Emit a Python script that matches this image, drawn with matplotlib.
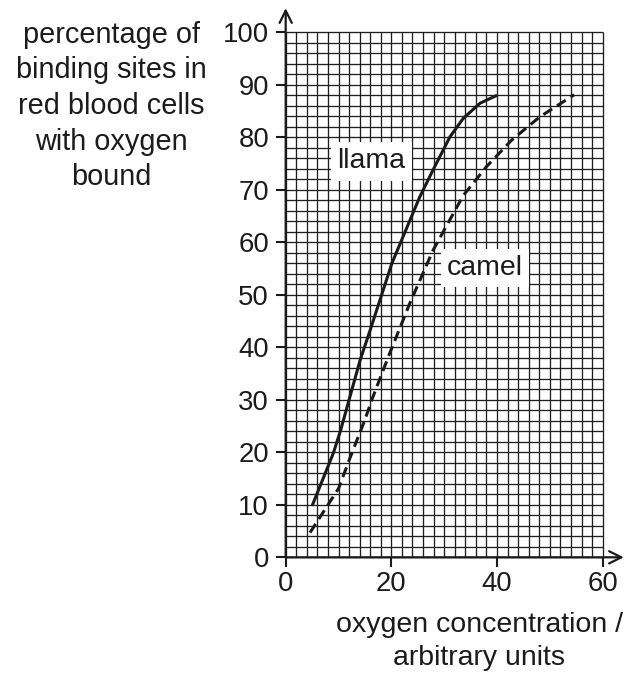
import numpy as np
import matplotlib
matplotlib.use('Agg')
import matplotlib.pyplot as plt

plt.rcParams['font.family'] = ['Liberation Sans', 'DejaVu Sans']

# values
llama_x = [5.0, 9.0, 10.4, 12.0, 14.1, 16.0, 20.1, 25.4, 27.9, 31.1, 33.6, 36.8, 40.0]
llama_y = [9.8, 19.8, 24.2, 30.0, 37.6, 43.3, 56.0, 68.7, 73.8, 80.1, 83.6, 86.5, 88.0]

camel_x = [4.6, 10.0, 12.5, 15.0, 16.3, 19.7, 23.5, 27.9, 33.6, 38.0, 42.8, 48.1, 54.6]
camel_y = [4.7, 13.1, 19.8, 26.2, 30.0, 38.9, 48.4, 58.5, 68.9, 74.4, 79.5, 83.9, 88.1]

x_ticks = [0, 20, 40, 60]
y_ticks = [0, 10, 20, 30, 40, 50, 60, 70, 80, 90, 100]

ylabel = 'percentage of\nbinding sites in\nred blood cells\nwith oxygen\nbound'
xlabel = 'oxygen concentration /\narbitrary units'

fig = plt.figure(figsize=(6.25, 6.73), dpi=100)
ax = fig.add_axes([0.4571, 0.1719, 0.5072, 0.7801])
ax.set_xlim(0, 60)
ax.set_ylim(0, 100)

# graph paper grid, one square = 2 units
gx = np.arange(0, 61, 2)
gy = np.arange(0, 101, 2)
ax.vlines(gx, 0, 100, color='#1f1f1f', lw=0.95, clip_on=False, zorder=1)
ax.hlines(gy, 0, 60, color='#1f1f1f', lw=0.95, clip_on=False, zorder=1)

for s in ax.spines.values():
    s.set_visible(False)

# axes with open arrow heads
ax.annotate('', xy=(0, 104.6), xytext=(0, 0), annotation_clip=False,
            arrowprops=dict(arrowstyle='->', lw=1.6, color='#1a1a1a',
                            mutation_scale=22, shrinkA=0, shrinkB=0))
ax.annotate('', xy=(64.0, 0), xytext=(0, 0), annotation_clip=False,
            arrowprops=dict(arrowstyle='->', lw=1.6, color='#1a1a1a',
                            mutation_scale=22, shrinkA=0, shrinkB=0))

ax.plot(llama_x, llama_y, color='#1a1a1a', lw=2.2, solid_capstyle='butt', zorder=3)
ax.plot(camel_x, camel_y, color='#1a1a1a', lw=2.2, dashes=(3.4, 1.9), zorder=3)

box = dict(boxstyle='square,pad=0.22', facecolor='white', edgecolor='none')
ax.text(16.2, 75.4, 'llama', fontsize=20.5, ha='center', va='center',
        color='#1c1a1b', bbox=box, zorder=4)
ax.text(37.7, 55.1, 'camel', fontsize=20.5, ha='center', va='center',
        color='#1c1a1b', bbox=box, zorder=4)

ax.set_xticks(x_ticks)
ax.set_yticks(y_ticks)
ax.tick_params(axis='both', direction='out', length=7, width=1.5,
               color='#1a1a1a', labelsize=19.8, labelcolor='#1c1a1b')
ax.tick_params(axis='x', pad=3)
ax.tick_params(axis='y', pad=5)

fig.text(0.178, 0.8425, ylabel, fontsize=20.8, ha='center', va='center',
         multialignment='center', linespacing=1.35, color='#1c1a1b')
fig.text(0.7664, 0.0468, xlabel, fontsize=20.5, ha='center', va='center',
         multialignment='center', linespacing=1.32, color='#1c1a1b')

fig.savefig('out.png', dpi=100, facecolor='white')
